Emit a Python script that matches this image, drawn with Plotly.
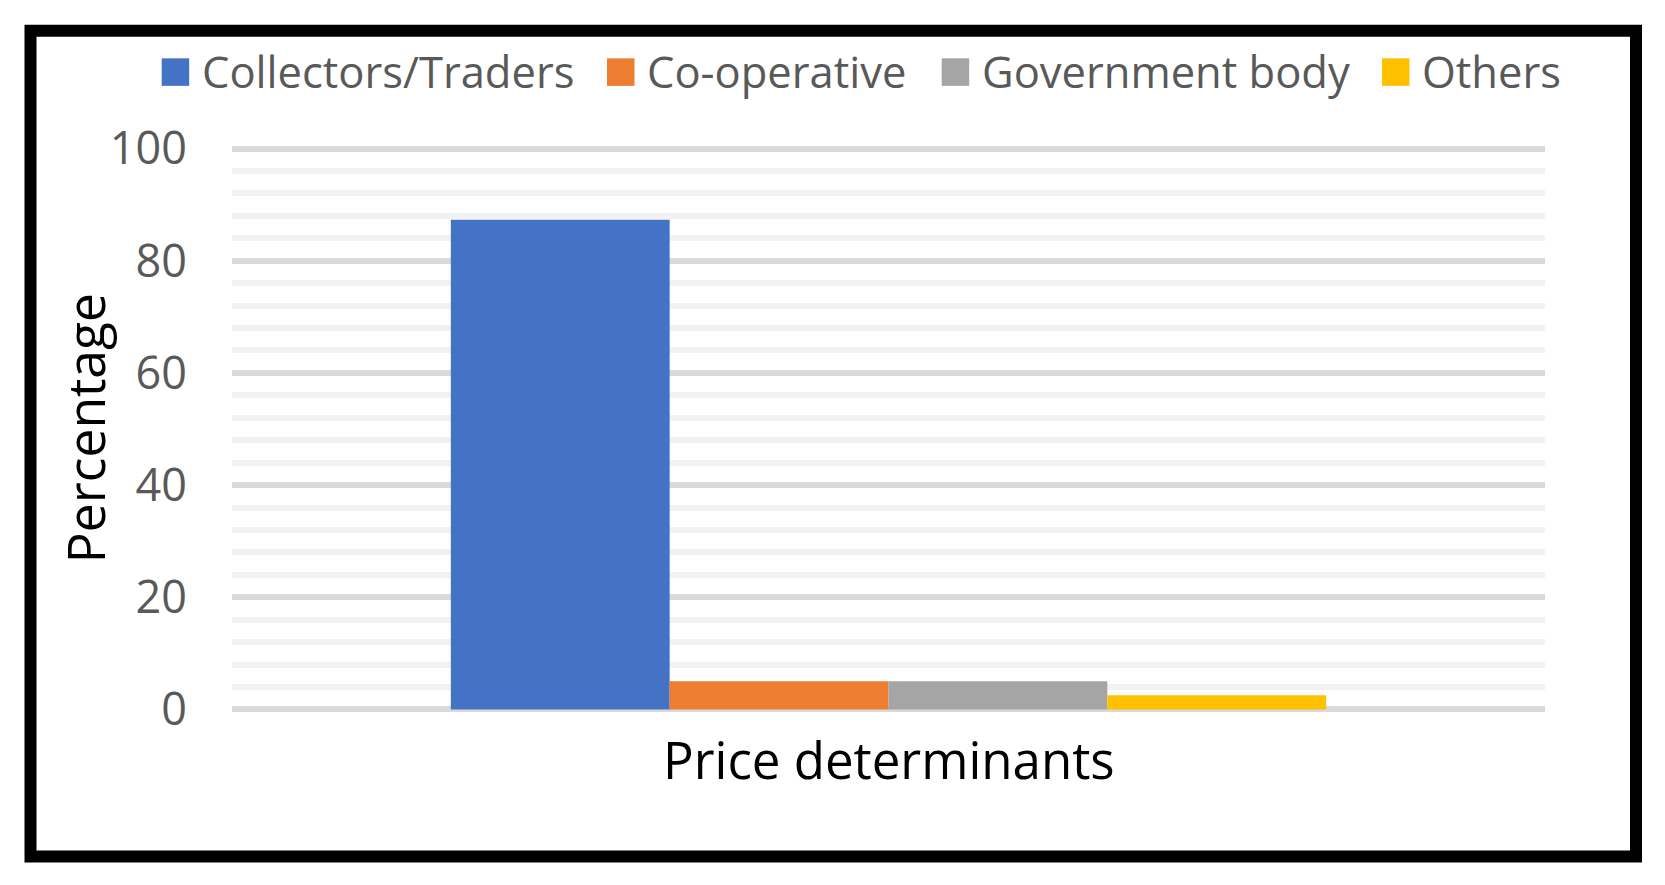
import plotly.graph_objects as go

# data
category = ["Price determinants"]
series = ["Collectors/Traders", "Co-operative", "Government body", "Others"]
values = [87.3, 5.0, 5.0, 2.5]
colors = ["#4472C4", "#ED7D31", "#A5A5A5", "#FFC000"]
y_ticks = [0, 20, 40, 60, 80, 100]

# the page body has an 8px margin, so the figure is drawn 8px in from the window edge
OFF = 8
W, H = 1665 - 2 * OFF, 885 - 2 * OFF
# plot area, window pixels
L, R = 232, 1545
T, B = 143.1, 714.6


def px(x):
    return (x - L) / (R - L)


def py(y):
    return (B - y) / (B - T)


fig = go.Figure()
for name, v, c in zip(series, values, colors):
    fig.add_bar(x=category, y=[v], name=name, marker_color=c,
                marker_line_width=0, showlegend=False)

# legend drawn by hand so the swatches can be as large as in the original
legend_left = [161.7, 607, 941.7, 1382]
sw = 27.5
shapes = []
annotations = []
for name, c, x0 in zip(series, colors, legend_left):
    shapes.append(dict(type="rect", xref="paper", yref="paper",
                       x0=px(x0), x1=px(x0 + sw), y0=py(86), y1=py(86 - sw),
                       fillcolor=c, line_width=0))
    annotations.append(dict(text=name, xref="paper", yref="paper",
                            x=px(x0 + 38), y=py(72), xanchor="left", yanchor="middle",
                            showarrow=False, font=dict(size=43.5, color="#595959")))

# outer black frame
shapes.append(dict(type="rect", xref="paper", yref="paper",
                   x0=px(30.5), x1=px(1636), y0=py(856), y1=py(31),
                   line=dict(color="black", width=12), fillcolor="rgba(0,0,0,0)"))

# axis titles
annotations.append(dict(text="Price determinants", xref="paper", yref="paper",
                        x=px(888.8), y=py(759), xanchor="center", yanchor="middle",
                        showarrow=False, font=dict(size=51, color="black")))
annotations.append(dict(text="Percentage", xref="paper", yref="paper",
                        x=px(85), y=py(428), xanchor="center", yanchor="middle",
                        textangle=-90, showarrow=False, font=dict(size=51.5, color="black")))

fig.update_layout(
    width=W, height=H,
    margin=dict(l=L - OFF, r=W + OFF - R, t=T - OFF, b=H + OFF - B, pad=0),
    font=dict(family="Open Sans"),
    paper_bgcolor="white", plot_bgcolor="white",
    barmode="group", bargap=1 / 3, bargroupgap=0,
    shapes=shapes, annotations=annotations,
)
fig.update_xaxes(showticklabels=False, showgrid=False, zeroline=False, showline=False)
fig.update_yaxes(range=[-1, 101], tickvals=y_ticks, ticks="",
                 tickfont=dict(size=45, color="#595959"), ticklabelstandoff=44,
                 showgrid=True, gridcolor="#D9D9D9", gridwidth=6,
                 minor=dict(dtick=4, tick0=0, showgrid=True, gridcolor="#F2F2F2", gridwidth=6),
                 zeroline=False, showline=False)

fig.write_html("out.html")
